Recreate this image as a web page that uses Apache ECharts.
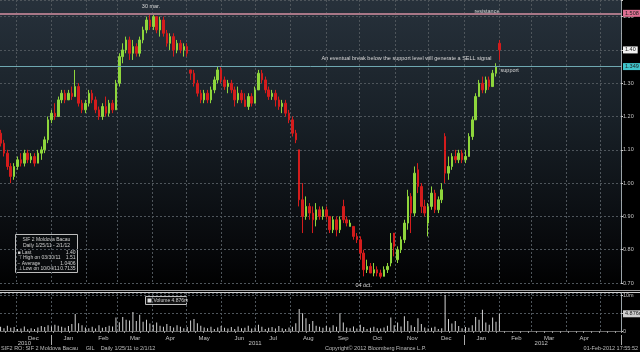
<!DOCTYPE html>
<html>
<head>
<meta charset="utf-8">
<script src="https://cdn.jsdelivr.net/npm/echarts@6/dist/echarts.min.js"></script>
<style>
  html, body { margin: 0; padding: 0; background: #000; }
  #chart {
    width: 640px; height: 352px;
    background:
      linear-gradient(to right, rgba(0,0,0,0) 621px, #000 621px),
      linear-gradient(to bottom, #27313b 0px, #182027 120px, #080a0d 240px, #000 290px, #000 352px);
  }
</style>
</head>
<body>
<div id="chart"></div>
<script>
// calendar days on the x axis, one candle every 3rd day
const startDay = [2010, 10, 17];
const dayCount = 549;
const step = 3;

const monthNames = ["Jan", "Feb", "Mar", "Apr", "May", "Jun", "Jul", "Aug", "Sep", "Oct", "Nov", "Dec"];
const yearLabels = { "2010-12-08": "2010", "2011-06-30": "2011", "2012-03-09": "2012" };
const lastMonthLabel = "2012-04-16";

// [open, close, low, high]
const ohlc = [
  [1.15,1.12,1.11,1.16],[1.12,1.09,1.08,1.13],[1.09,1.05,1.04,1.10],[1.05,1.02,1.00,1.06],[1.02,1.05,1.01,1.06],
  [1.05,1.07,1.04,1.08],[1.07,1.06,1.05,1.09],[1.06,1.09,1.05,1.10],[1.09,1.07,1.06,1.10],[1.07,1.08,1.06,1.09],
  [1.08,1.06,1.05,1.09],[1.06,1.09,1.06,1.10],[1.09,1.10,1.07,1.11],[1.10,1.13,1.09,1.14],[1.13,1.19,1.12,1.20],
  [1.19,1.21,1.18,1.22],[1.21,1.20,1.19,1.24],[1.20,1.25,1.20,1.26],[1.25,1.27,1.24,1.28],[1.27,1.25,1.24,1.28],
  [1.25,1.27,1.25,1.28],[1.27,1.26,1.25,1.29],[1.26,1.29,1.26,1.34],[1.29,1.24,1.23,1.30],[1.24,1.22,1.21,1.25],
  [1.22,1.24,1.21,1.25],[1.24,1.27,1.23,1.28],[1.27,1.25,1.24,1.28],[1.25,1.22,1.21,1.26],[1.22,1.20,1.19,1.23],
  [1.20,1.23,1.19,1.24],[1.23,1.21,1.20,1.26],[1.21,1.24,1.20,1.25],[1.24,1.22,1.21,1.25],[1.22,1.30,1.22,1.31],
  [1.30,1.38,1.29,1.39],[1.38,1.40,1.36,1.42],[1.40,1.43,1.39,1.44],[1.43,1.39,1.37,1.44],[1.39,1.41,1.37,1.43],
  [1.41,1.39,1.38,1.42],[1.39,1.43,1.38,1.44],[1.43,1.46,1.42,1.47],[1.46,1.49,1.45,1.50],[1.49,1.47,1.46,1.51],
  [1.47,1.50,1.46,1.51],[1.50,1.46,1.45,1.50],[1.46,1.49,1.44,1.50],[1.49,1.45,1.44,1.50],[1.45,1.42,1.41,1.46],
  [1.42,1.44,1.40,1.45],[1.44,1.40,1.38,1.45],[1.40,1.42,1.39,1.43],[1.42,1.40,1.39,1.43],[1.40,1.41,1.38,1.42],
  [1.41,1.39,1.38,1.42],[1.34,1.33,1.31,1.34],[1.33,1.30,1.29,1.34],[1.30,1.27,1.26,1.31],[1.27,1.25,1.24,1.28],
  [1.25,1.27,1.24,1.28],[1.27,1.25,1.24,1.28],[1.25,1.28,1.24,1.29],[1.28,1.31,1.27,1.32],[1.31,1.34,1.30,1.35],
  [1.34,1.31,1.30,1.35],[1.31,1.29,1.28,1.32],[1.29,1.30,1.27,1.31],[1.30,1.28,1.27,1.31],[1.28,1.25,1.23,1.29],
  [1.25,1.27,1.24,1.29],[1.27,1.25,1.24,1.28],[1.25,1.23,1.23,1.27],[1.23,1.26,1.22,1.27],[1.26,1.24,1.23,1.27],
  [1.24,1.28,1.24,1.29],[1.28,1.33,1.28,1.34],[1.33,1.31,1.30,1.34],[1.31,1.28,1.27,1.32],[1.28,1.26,1.25,1.29],
  [1.26,1.27,1.25,1.28],[1.27,1.25,1.23,1.28],[1.25,1.23,1.22,1.26],[1.23,1.24,1.21,1.25],[1.24,1.21,1.20,1.25],
  [1.21,1.19,1.18,1.22],[1.19,1.15,1.14,1.20],[1.15,1.13,1.12,1.16],[1.10,0.95,0.93,1.10],[0.95,0.90,0.85,1.00],
  [0.90,0.93,0.89,0.96],[0.93,0.91,0.89,0.94],[0.91,0.89,0.85,0.93],[0.89,0.92,0.87,0.94],[0.92,0.90,0.89,0.93],
  [0.90,0.92,0.89,0.93],[0.92,0.90,0.89,0.93],[0.90,0.86,0.85,0.90],[0.86,0.89,0.85,0.90],[0.89,0.86,0.84,0.90],
  [0.86,0.89,0.85,0.90],[0.93,0.89,0.88,0.95],[0.89,0.88,0.87,0.90],[0.87,0.88,0.87,0.89],[0.87,0.84,0.83,0.87],
  [0.84,0.83,0.82,0.85],[0.83,0.79,0.77,0.84],[0.79,0.74,0.72,0.80],[0.74,0.75,0.73,0.77],[0.75,0.73,0.73,0.76],
  [0.73,0.74,0.72,0.76],[0.74,0.73,0.72,0.75],[0.73,0.72,0.7135,0.74],[0.72,0.74,0.72,0.75],[0.74,0.75,0.73,0.76],
  [0.76,0.82,0.75,0.85],[0.85,0.81,0.78,0.85],[0.77,0.80,0.76,0.81],[0.80,0.83,0.79,0.84],[0.83,0.88,0.82,0.89],
  [0.88,0.96,0.86,0.98],[0.96,0.91,0.85,0.97],[0.91,1.03,0.90,1.05],[1.04,0.99,0.97,1.06],[0.99,0.93,0.91,1.00],
  [0.93,0.91,0.90,0.95],[0.88,0.93,0.84,0.94],[0.93,0.97,0.92,0.99],[0.97,0.92,0.91,0.98],[0.92,0.95,0.91,0.96],
  [0.95,0.98,0.94,1.00],[1.14,1.03,1.00,1.15],[1.03,1.05,1.01,1.08],[1.05,1.08,1.04,1.09],[1.08,1.07,1.06,1.10],
  [1.07,1.09,1.06,1.10],[1.09,1.07,1.06,1.10],[1.07,1.08,1.06,1.10],[1.08,1.14,1.08,1.15],[1.14,1.19,1.13,1.20],
  [1.19,1.26,1.19,1.27],[1.26,1.30,1.26,1.31],[1.30,1.28,1.27,1.32],[1.28,1.31,1.27,1.32],[1.31,1.29,1.28,1.32],
  [1.29,1.33,1.29,1.34],[1.33,1.35,1.32,1.36],[1.42,1.40,1.37,1.43]
];

// volume in millions, same sessions
const volume = [
  1.2,0.8,1.5,0.9,1.1,0.6,0.7,1.3,0.5,0.8,
  0.6,1.0,1.4,1.1,1.6,1.3,1.8,1.5,1.2,0.9,
  1.4,2.0,4.8,2.2,1.6,1.0,0.8,1.2,0.7,1.6,
  0.9,1.1,1.5,1.3,3.8,2.5,4.0,3.2,3.0,5.4,
  2.8,4.6,2.6,3.2,2.1,1.8,2.4,1.5,1.2,2.0,
  1.4,1.0,1.6,1.2,0.8,1.1,3.0,3.4,2.2,1.5,
  1.0,0.8,1.2,0.6,1.0,1.4,0.9,0.7,1.1,0.6,
  1.3,0.8,0.9,1.5,0.7,1.0,1.8,1.2,0.6,0.9,
  1.1,0.7,1.4,0.8,0.6,1.0,1.2,2.2,6.2,5.0,
  3.6,2.0,2.8,1.5,1.2,0.9,1.4,1.0,1.6,1.2,
  5.0,2.4,1.0,0.8,1.3,0.7,1.8,1.1,0.6,0.9,
  1.2,0.8,0.7,1.0,1.5,3.8,1.6,2.4,1.3,4.2,
  2.8,1.6,1.1,3.6,2.0,1.0,0.7,0.9,1.2,0.6,
  0.8,10.2,3.4,2.1,2.8,1.4,0.8,1.1,0.9,1.6,
  4.0,3.2,6.0,2.4,1.8,3.8,2.6,4.876
];

const resistance = 1.508;
const support = 1.349;
const lastPrice = 1.40;
const lastVolume = 4.876;

const notes = [
  { date: "2011-03-30", price: 1.53, text: "30 mar.", align: "center" },
  { date: "2012-01-21", price: 1.515, text: "resistance", align: "center" },
  { date: "2012-01-25", price: 1.373, text: "An eventual break below the support level will generate a SELL signal", align: "right" },
  { date: "2012-02-02", price: 1.337, text: "support", align: "left" },
  { date: "2011-10-04", price: 0.70, text: "04 oct.", align: "center" }
];

const legendRows = [
  ["\u25A0 Last", "1.40"],
  ["\u22A4 High on 03/30/11", "1.51"],
  ["\u2212 Average", "1.0406"],
  ["\u22A5 Low on 10/04/11", "0.7135"]
];

// build the day categories
const days = [];
for (let d = 0; d < dayCount; d++) {
  const t = new Date(Date.UTC(startDay[0], startDay[1], startDay[2] + d));
  days.push(t.toISOString().slice(0, 10));
}
const candleData = days.map(() => "-");
ohlc.forEach((r, i) => { candleData[i * step] = r; });
const volData = days.map(() => "-");
volume.forEach((v, i) => { volData[i * step] = v; });

const FONT = "Liberation Sans";
const txt = "#c4c4c4";
const small = "5px " + FONT;
const gridLine = { show: true, interval: (i, v) => v.slice(8) === "01", lineStyle: { color: "#4e555b", type: [2, 2], width: 1 } };

let myChart = echarts.init(document.getElementById("chart"));
myChart.setOption({
  backgroundColor: "transparent",
  animation: false,
  textStyle: { fontFamily: FONT },
  grid: [
    { left: 0, right: 19, top: 0, height: 283 },
    { left: 0, right: 19, top: 293, height: 38 }
  ],
  xAxis: [
    {
      gridIndex: 0, type: "category", data: days, boundaryGap: true,
      axisLine: { show: false }, axisTick: { show: false }, axisLabel: { show: false },
      splitLine: gridLine
    },
    {
      gridIndex: 1, type: "category", data: days, boundaryGap: true,
      axisLine: { show: true, lineStyle: { color: "#6a6a6a" } },
      axisTick: { show: true, interval: (i, v) => new Date(v).getUTCDay() === 1, length: 2, lineStyle: { color: "#999" } },
      axisLabel: {
        interval: (i, v) => v.slice(8) === "16" && v <= lastMonthLabel,
        formatter: v => monthNames[+v.slice(5, 7) - 1],
        color: txt, fontSize: 6, margin: 4, fontFamily: FONT
      },
      splitLine: gridLine
    },
    {
      gridIndex: 1, type: "category", data: days, boundaryGap: true, position: "bottom", offset: 4,
      axisLine: { show: false },
      axisTick: { show: true, interval: (i, v) => v.slice(5) === "01-01", length: 10, lineStyle: { color: "#aaa" } },
      axisLabel: {
        interval: (i, v) => v in yearLabels,
        formatter: v => yearLabels[v] || "",
        color: txt, fontSize: 6, margin: 5, fontFamily: FONT
      },
      splitLine: { show: false }
    }
  ],
  yAxis: [
    {
      gridIndex: 0, type: "value", position: "right", min: 0.7, max: 1.55, interval: 0.1,
      axisLine: { show: true, lineStyle: { color: "#9aa3a8" } },
      axisTick: { show: true, length: 2, lineStyle: { color: "#ccc" } },
      minorTick: { show: true, splitNumber: 2, length: 1, lineStyle: { color: "#aaa" } },
      axisLabel: { color: txt, fontSize: 5.5, margin: 2, showMaxLabel: false, formatter: v => v.toFixed(2), fontFamily: FONT },
      splitLine: { lineStyle: { color: "#4e555b", type: [2, 2] } }
    },
    {
      gridIndex: 1, type: "value", position: "right", min: 0, max: 10.77, interval: 5,
      axisLine: { show: true, lineStyle: { color: "#9aa3a8" } },
      axisTick: { show: true, length: 2, lineStyle: { color: "#ccc" } },
      axisLabel: { color: txt, fontSize: 5.5, margin: 2, showMaxLabel: false, fontFamily: FONT,
        formatter: v => (v === 0 ? "0" : v === 10 ? "10m" : "") },
      splitLine: { lineStyle: { color: "#4e555b", type: [2, 2] } }
    }
  ],
  series: [
    {
      type: "candlestick", xAxisIndex: 0, yAxisIndex: 0, data: candleData, barWidth: 2,
      itemStyle: { color: "#8ed63c", color0: "#d41c1c", borderColor: "#8ed63c", borderColor0: "#d41c1c", borderWidth: 1 },
      markLine: {
        silent: true, symbol: ["none", "none"], animation: false,
        label: { position: "end", distance: 2, fontSize: 5.5, padding: [1, 2, 0, 2], color: "#222", fontFamily: FONT },
        data: [
          { yAxis: resistance, lineStyle: { color: "#a87787", width: 2, type: "solid" },
            label: { formatter: String(resistance), backgroundColor: "#de6f92" } },
          { yAxis: support, lineStyle: { color: "#6fa8b1", width: 1, type: "solid" },
            label: { formatter: String(support), backgroundColor: "#3fc4cb" } },
          { yAxis: lastPrice, lineStyle: { color: "rgba(0,0,0,0)" },
            label: { formatter: lastPrice.toFixed(2), backgroundColor: "#f2f2f2" } }
        ]
      },
      markPoint: {
        silent: true, symbol: "rect", symbolSize: 1, itemStyle: { color: "rgba(0,0,0,0)" },
        data: notes.map(n => ({
          coord: [n.date, n.price],
          label: { show: true, position: "inside", align: n.align, formatter: n.text,
            color: "#d8d8d8", fontSize: 5.5, fontFamily: FONT,
            offset: n.text === "04 oct." ? [0, 2] : [0, 0] }
        }))
      }
    },
    {
      type: "bar", xAxisIndex: 1, yAxisIndex: 1, data: volData, barWidth: 1,
      itemStyle: { color: "#d2d2d2" },
      markLine: {
        silent: true, symbol: ["none", "none"], animation: false,
        lineStyle: { color: "rgba(0,0,0,0)" },
        label: { position: "end", distance: 2, fontSize: 5.5, padding: [1, 2, 0, 2], color: "#222",
          backgroundColor: "#cfcfcf", formatter: lastVolume + "m", fontFamily: FONT },
        data: [{ yAxis: lastVolume }]
      }
    }
  ],
  graphic: [
    // panel separator
    { type: "line", shape: { x1: 0, y1: 290.5, x2: 640, y2: 290.5 }, style: { stroke: "#9c9c9c", lineWidth: 1 } },
    { type: "line", shape: { x1: 0, y1: 292.5, x2: 640, y2: 292.5 }, style: { stroke: "#d0d0d0", lineWidth: 1 } },
    // legend box
    {
      type: "group", left: 15, top: 234,
      children: [
        { type: "rect", shape: { x: 0, y: 0, width: 62, height: 38 }, style: { fill: "rgba(10,12,14,0.9)", stroke: "#bdbdbd", lineWidth: 1 } },
        { type: "text", x: 31, y: 3, style: { text: "SIF 2 Moldova Bacau", fill: "#d0d0d0", font: small, textAlign: "center" } },
        { type: "text", x: 31, y: 9, style: { text: "Daily 1/25/11 - 2/1/12", fill: "#d0d0d0", font: small, textAlign: "center" } }
      ].concat(legendRows.flatMap((r, k) => [
        { type: "text", x: 2, y: 15.5 + k * 5.5, style: { text: r[0], fill: "#d0d0d0", font: small } },
        { type: "text", x: 60, y: 15.5 + k * 5.5, style: { text: r[1], fill: "#d0d0d0", font: small, textAlign: "right" } }
      ]))
    },
    // volume legend
    {
      type: "group", left: 145, top: 296,
      children: [
        { type: "rect", shape: { x: 0, y: 0, width: 41, height: 8 }, style: { fill: "#111", stroke: "#bdbdbd", lineWidth: 1 } },
        { type: "rect", shape: { x: 2, y: 2, width: 4, height: 4 }, style: { fill: "#e0e0e0" } },
        { type: "text", x: 8, y: 1.5, style: { text: "Volume " + lastVolume + "m", fill: "#d0d0d0", font: small } }
      ]
    },
    // footer
    { type: "text", left: 1, top: 345, style: { text: "SIF2 RO: SIF 2 Moldova Bacau     GIL    Daily 1/25/11 to 2/1/12", fill: "#bdbdbd", font: "5.5px " + FONT } },
    { type: "text", left: 325, top: 345, style: { text: "Copyright\u00A9 2012 Bloomberg Finance L.P.", fill: "#bdbdbd", font: "5.5px " + FONT } },
    { type: "text", right: 2, top: 345, style: { text: "01-Feb-2012 17:55:52", fill: "#bdbdbd", font: "5.5px " + FONT } }
  ]
});
</script>
</body>
</html>
